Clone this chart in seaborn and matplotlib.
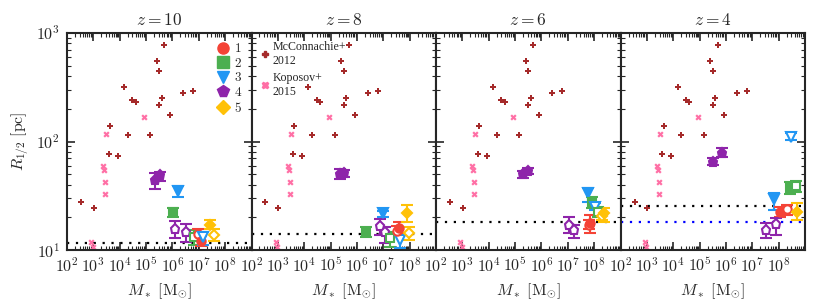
import numpy as np
import pandas as pd
import matplotlib.pyplot as plt
import seaborn as sns
from matplotlib.lines import Line2D
from matplotlib.ticker import FixedLocator, FuncFormatter, LogLocator, NullFormatter

# background samples (log10 M*, R_1/2 in pc)
mcc_logm = [5.69, 5.40, 5.50, 4.16, 4.48, 4.61, 5.60, 5.49, 6.40, 6.78,
            5.91, 3.63, 4.30, 5.16, 3.59, 3.92, 2.53, 3.01]
mcc_r = [776, 550, 447, 318, 242, 229, 252, 219, 281, 295,
         176, 140, 114, 114, 77, 73, 28, 24.6]
kop_logm = [4.93, 3.49, 3.37, 3.42, 3.45, 3.45, 2.92, 2.97]
kop_r = [170, 118, 60, 55, 42, 33, 11.8, 10.7]

# simulated galaxies per redshift: (group, filled, log10 M*, R, R_lo, R_hi)
z10_points = [
    (4, True, 5.33, 44.3, 36.3, 51.7), (4, True, 5.51, 49.2, 43.7, 52.8),
    (3, True, 6.22, 35.3, 31.0, 39.3), (2, True, 6.03, 22.4, 20.3, 24.3),
    (4, False, 6.08, 15.6, 12.8, 18.5), (4, False, 6.52, 14.6, 11.9, 17.4),
    (2, False, 6.83, 13.3, 11.1, 15.3), (1, False, 6.98, 14.0, 12.3, 15.6),
    (1, True, 7.10, 12.2, 11.0, 13.5), (3, False, 7.17, 13.3, 11.1, 14.7),
    (5, True, 7.43, 17.2, 15.6, 18.9), (5, False, 7.59, 13.7, 12.2, 15.5),
]
z8_points = [
    (4, True, 5.35, 50.0, 45.0, 56.0), (4, True, 5.52, 51.8, 47.0, 55.0),
    (2, True, 6.34, 14.6, 13.1, 16.2), (3, True, 7.00, 21.8, 20.3, 22.9),
    (4, False, 6.87, 16.7, 13.8, 19.3), (4, False, 7.08, 14.7, 11.7, 16.4),
    (2, False, 7.25, 12.8, 10.7, 14.8), (3, False, 7.65, 12.5, 10.4, 13.8),
    (1, False, 7.52, 15.0, 13.5, 16.5), (1, True, 7.58, 16.0, 14.3, 18.2),
    (5, True, 7.89, 22.1, 18.2, 26.0), (5, False, 7.99, 14.3, 12.4, 16.2),
]
z6_points = [
    (4, True, 5.31, 50.4, 46.0, 54.0), (4, True, 5.49, 54.0, 50.0, 57.0),
    (3, True, 7.78, 33.3, 27.9, 37.3), (2, True, 7.90, 27.9, 24.2, 31.0),
    (3, False, 8.03, 25.1, 23.4, 27.3), (2, False, 8.13, 22.6, 20.0, 25.0),
    (1, False, 7.82, 17.0, 15.5, 19.0), (1, True, 7.84, 17.9, 14.3, 21.0),
    (5, False, 8.30, 20.5, 19.0, 22.0), (5, True, 8.39, 21.8, 18.2, 24.3),
    (4, False, 7.05, 17.0, 14.3, 20.3), (4, False, 7.22, 15.3, 12.8, 17.0),
]
z4_points = [
    (4, True, 5.52, 65.3, 61.0, 70.0), (4, True, 5.85, 79.0, 72.7, 86.7),
    (3, False, 8.46, 110.0, 103.0, 119.0),
    (2, True, 8.42, 37.0, 33.0, 42.0), (2, False, 8.65, 38.9, 34.0, 43.0),
    (3, True, 7.83, 29.4, 23.4, 33.3),
    (1, True, 8.04, 22.6, 20.3, 25.1), (1, False, 8.30, 23.7, 21.0, 26.0),
    (5, True, 8.68, 22.6, 18.9, 27.0),
    (4, False, 7.50, 15.3, 12.8, 17.6), (4, False, 7.89, 17.4, 13.7, 19.6),
]
redshifts = [10, 8, 6, 4]
panel_points = [z10_points, z8_points, z6_points, z4_points]
res_black = [11.6, 14.0, 18.1, 25.5]
res_blue = [None, None, None, 18.1]

groups = [1, 2, 3, 4, 5]
group_colors = {1: "#f44336", 2: "#4caf50", 3: "#2196f3", 4: "#8e24aa", 5: "#ffc107"}
group_markers = {1: "o", 2: "s", 3: "v", 4: "p", 5: "D"}
group_ms = {1: 6, 2: 6, 3: 6.5, 4: 6.5, 5: 5.5}

sns.set_style("ticks")
plt.rcParams["font.family"] = ["DejaVu Serif"]
plt.rcParams["mathtext.fontset"] = "cm"

bg = pd.DataFrame({
    "M": np.concatenate([10 ** np.array(mcc_logm), 10 ** np.array(kop_logm)]),
    "R": mcc_r + kop_r,
    "src": ["mcc"] * len(mcc_r) + ["kop"] * len(kop_r),
})

fig, axes = plt.subplots(1, 4, figsize=(8.3, 3.08), dpi=100, sharey=True)
fig.subplots_adjust(left=0.0807, right=0.970, bottom=0.188, top=0.893, wspace=0)

for i, ax in enumerate(axes):
    ax.set_xscale("log")
    ax.set_yscale("log")
    sns.scatterplot(data=bg[bg.src == "mcc"], x="M", y="R", ax=ax, marker="P",
                    color="#a52a2a", s=20, linewidth=0, zorder=2)
    sns.scatterplot(data=bg[bg.src == "kop"], x="M", y="R", ax=ax, marker="X",
                    color="#ff6fa5", s=20, linewidth=0, zorder=2)

    ax.axhline(res_black[i], color="black", ls=(0, (1, 3)), lw=1.6, zorder=1)
    if res_blue[i] is not None:
        ax.axhline(res_blue[i], color="blue", ls=(0, (1, 3)), lw=1.6, zorder=1)

    for g, filled, lm, r, lo, hi in panel_points[i]:
        c = group_colors[g]
        ax.errorbar([10 ** lm], [r], yerr=[[r - lo], [hi - r]],
                    fmt=group_markers[g], color=c, mec=c,
                    mfc=c if filled else "white", ms=group_ms[g], mew=1.5,
                    elinewidth=1.5, capsize=4.5, capthick=1.5, zorder=4)

    ax.set_xlim(1e2, 1e9)
    ax.set_ylim(10, 1000)
    ax.set_title(rf"$z = {redshifts[i]}$", fontsize=12.5, pad=6)
    ax.set_xlabel(r"$M_*\ [\mathrm{M}_{\odot}]$", fontsize=11.5)
    ax.set_ylabel("")
    ax.xaxis.set_major_locator(FixedLocator([10.0 ** k for k in range(2, 10)]))
    ax.xaxis.set_major_formatter(FuncFormatter(
        lambda v, p: "" if v > 5e8 else rf"$10^{{{int(round(np.log10(v)))}}}$"))
    ax.xaxis.set_minor_locator(LogLocator(base=10, subs=np.arange(2, 10), numticks=20))
    ax.xaxis.set_minor_formatter(NullFormatter())
    ax.tick_params(which="both", direction="in", top=True, right=True, labelsize=11.5)
    ax.tick_params(axis="x", which="major", pad=5)
    ax.tick_params(which="major", length=6, width=1.2)
    ax.tick_params(which="minor", length=3, width=0.8)
    for s in ax.spines.values():
        s.set_linewidth(1.5)

axes[0].set_ylabel(r"$R_{1/2}\ [\mathrm{pc}]$", fontsize=11.5)
axes[0].yaxis.set_major_formatter(FuncFormatter(
    lambda v, p: rf"$10^{{{int(round(np.log10(v)))}}}$"))
axes[0].tick_params(axis="y", which="major", pad=5)

handles = [Line2D([], [], ls="none", marker=group_markers[g], color=group_colors[g],
                  ms=group_ms[g] + 2) for g in groups]
axes[0].legend(handles, [rf"$\mathrm{{{g}}}$" for g in groups], loc="upper right",
               frameon=False, fontsize=9.5, handletextpad=0.2, labelspacing=0.12,
               borderaxespad=0.3, handlelength=1.2)

bg_handles = [Line2D([], [], ls="none", marker="P", color="#a52a2a", ms=5),
              Line2D([], [], ls="none", marker="X", color="#ff6fa5", ms=5)]
axes[1].legend(bg_handles, ["McConnachie+\n2012", "Koposov+\n2015"],
               loc="upper left", frameon=False,
               prop={"family": "Liberation Serif", "size": 8.6},
               handletextpad=0.1, labelspacing=0.45, borderaxespad=0.25,
               handlelength=1.0)

fig.savefig("out.png", dpi=100)
